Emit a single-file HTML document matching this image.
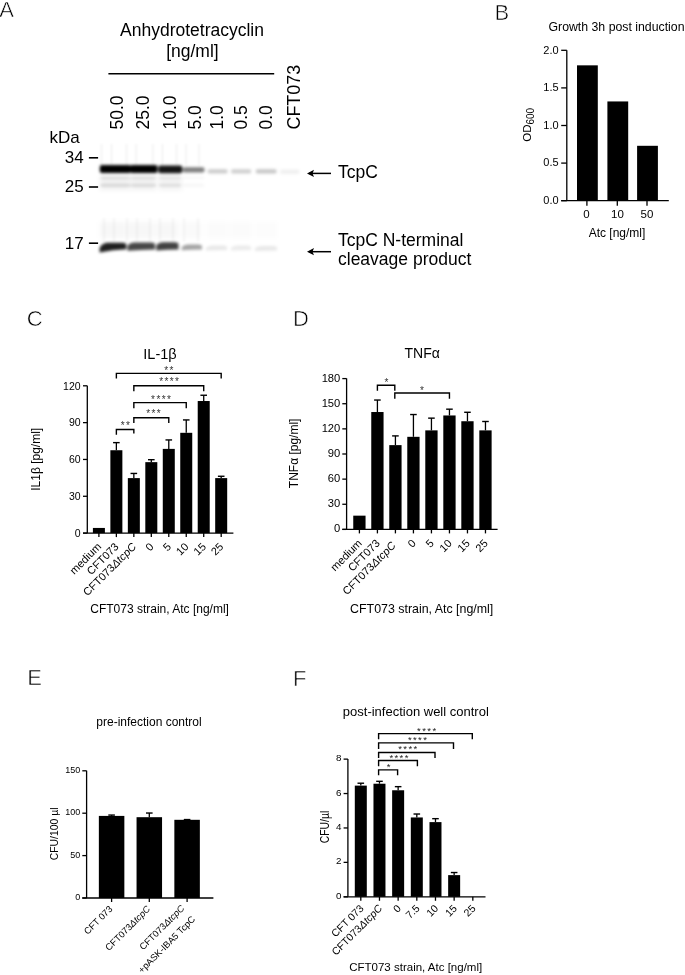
<!DOCTYPE html>
<html><head><meta charset="utf-8"><style>
html,body{margin:0;padding:0;background:#fff;width:685px;height:975px;overflow:hidden}
svg{display:block;font-family:"Liberation Sans", sans-serif;filter:blur(0.4px)}
</style></head><body>
<svg width="685" height="975" viewBox="0 0 685 975">
<text x="-0.7" y="16.9" font-size="22" text-anchor="start" fill="#000" stroke="#fff" stroke-width="0.55">A</text>
<text x="494.5" y="20.1" font-size="22" text-anchor="start" fill="#000" stroke="#fff" stroke-width="0.55">B</text>
<text x="26.7" y="325.8" font-size="22" text-anchor="start" fill="#000" stroke="#fff" stroke-width="0.55">C</text>
<text x="293.1" y="325.8" font-size="22" text-anchor="start" fill="#000" stroke="#fff" stroke-width="0.55">D</text>
<text x="27.2" y="685.3" font-size="22" text-anchor="start" fill="#000" stroke="#fff" stroke-width="0.55">E</text>
<text x="292.9" y="685.7" font-size="22" text-anchor="start" fill="#000" stroke="#fff" stroke-width="0.55">F</text>
<text x="192" y="35.7" font-size="17.5" text-anchor="middle" fill="#000" >Anhydrotetracyclin</text>
<text x="192.4" y="56.7" font-size="17.5" text-anchor="middle" fill="#000" >[ng/ml]</text>
<line x1="108.4" y1="73.7" x2="274.2" y2="73.7" stroke="#000" stroke-width="1.4"/>
<text x="0" y="0" font-size="17.5" text-anchor="start" fill="#000" transform="translate(123.2,129.5) rotate(-90)" >50.0</text>
<text x="0" y="0" font-size="17.5" text-anchor="start" fill="#000" transform="translate(149.2,129.5) rotate(-90)" >25.0</text>
<text x="0" y="0" font-size="17.5" text-anchor="start" fill="#000" transform="translate(176,129.5) rotate(-90)" >10.0</text>
<text x="0" y="0" font-size="17.5" text-anchor="start" fill="#000" transform="translate(201,129.5) rotate(-90)" >5.0</text>
<text x="0" y="0" font-size="17.5" text-anchor="start" fill="#000" transform="translate(222.6,129.5) rotate(-90)" >1.0</text>
<text x="0" y="0" font-size="17.5" text-anchor="start" fill="#000" transform="translate(246.5,129.5) rotate(-90)" >0.5</text>
<text x="0" y="0" font-size="17.5" text-anchor="start" fill="#000" transform="translate(272.2,129.5) rotate(-90)" >0.0</text>
<text x="0" y="0" font-size="17.9" text-anchor="start" fill="#000" transform="translate(300.4,129.5) rotate(-90)" >CFT073</text>
<text x="49.5" y="142.8" font-size="17" text-anchor="start" fill="#000" >kDa</text>
<text x="83.6" y="162.7" font-size="17" text-anchor="end" fill="#000" >34</text>
<line x1="88.9" y1="157.8" x2="98.1" y2="157.8" stroke="#000" stroke-width="1.6"/>
<text x="83.6" y="191.9" font-size="17" text-anchor="end" fill="#000" >25</text>
<line x1="88.9" y1="187" x2="98.1" y2="187" stroke="#000" stroke-width="1.6"/>
<text x="83.6" y="248.8" font-size="17" text-anchor="end" fill="#000" >17</text>
<line x1="88.9" y1="243.2" x2="98.1" y2="243.2" stroke="#000" stroke-width="1.6"/>
<line x1="309" y1="173.4" x2="331" y2="173.4" stroke="#000" stroke-width="1.5"/>
<path d="M307 173.4 L314 169.8 L312.5 173.4 L314 177.0 Z" fill="#000"/>
<line x1="309" y1="251.7" x2="331" y2="251.7" stroke="#000" stroke-width="1.5"/>
<path d="M307 251.7 L314 248.1 L312.5 251.7 L314 255.29999999999998 Z" fill="#000"/>
<text x="338" y="178.4" font-size="17.5" text-anchor="start" fill="#000" >TcpC</text>
<text x="338" y="245.5" font-size="17.5" text-anchor="start" fill="#000" >TcpC N-terminal</text>
<text x="338" y="265.2" font-size="17.5" text-anchor="start" fill="#000" >cleavage product</text>
<defs><filter id="b1" x="-50%" y="-50%" width="200%" height="200%"><feGaussianBlur stdDeviation="1.45"/></filter><filter id="b2" x="-50%" y="-50%" width="200%" height="200%"><feGaussianBlur stdDeviation="2.5"/></filter><filter id="b3" x="-50%" y="-50%" width="200%" height="200%"><feGaussianBlur stdDeviation="0.9"/></filter></defs>
<g filter="url(#b3)">
<rect x="100.9" y="144" width="1.2" height="22" fill="#000" opacity="0.07"/>
<rect x="111.0" y="144" width="1.2" height="22" fill="#000" opacity="0.07"/>
<rect x="125.9" y="144" width="1.2" height="22" fill="#000" opacity="0.07"/>
<rect x="135.6" y="144" width="1.2" height="22" fill="#000" opacity="0.07"/>
<rect x="152.20000000000002" y="144" width="1.2" height="22" fill="#000" opacity="0.07"/>
<rect x="161.8" y="144" width="1.2" height="22" fill="#000" opacity="0.07"/>
<rect x="175.9" y="144" width="1.2" height="22" fill="#000" opacity="0.07"/>
<rect x="185.4" y="144" width="1.2" height="22" fill="#000" opacity="0.07"/>
<rect x="198.4" y="144" width="1.2" height="22" fill="#000" opacity="0.07"/>
<rect x="103.4" y="218" width="1.2" height="24" fill="#000" opacity="0.06"/>
<rect x="113.4" y="218" width="1.2" height="24" fill="#000" opacity="0.06"/>
<rect x="126.4" y="218" width="1.2" height="24" fill="#000" opacity="0.06"/>
<rect x="136.4" y="218" width="1.2" height="24" fill="#000" opacity="0.06"/>
<rect x="149.4" y="218" width="1.2" height="24" fill="#000" opacity="0.06"/>
<rect x="159.4" y="218" width="1.2" height="24" fill="#000" opacity="0.06"/>
<rect x="172.4" y="218" width="1.2" height="24" fill="#000" opacity="0.06"/>
<rect x="183.4" y="218" width="1.2" height="24" fill="#000" opacity="0.06"/>
<rect x="197.4" y="218" width="1.2" height="24" fill="#000" opacity="0.06"/>
</g>
<g filter="url(#b2)">
<rect x="100" y="222" width="26" height="16" fill="#000" opacity="0.03"/>
<rect x="127" y="222" width="27" height="16" fill="#000" opacity="0.03"/>
<rect x="156" y="222" width="22" height="16" fill="#000" opacity="0.03"/>
<rect x="182" y="222" width="20" height="16" fill="#000" opacity="0.02"/>
<rect x="206" y="222" width="22" height="16" fill="#000" opacity="0.016"/>
<rect x="230" y="222" width="22" height="16" fill="#000" opacity="0.016"/>
<rect x="255" y="222" width="22" height="16" fill="#000" opacity="0.012"/>
<rect x="100" y="176" width="30" height="14" fill="#000" opacity="0.06"/>
<rect x="131" y="176" width="25" height="14" fill="#000" opacity="0.06"/>
<rect x="159" y="176" width="23" height="14" fill="#000" opacity="0.05"/>
</g>
<g filter="url(#b1)">
<rect x="99.8" y="164.9" width="31.200000000000003" height="8.199999999999989" rx="2" fill="#000" opacity="1.0"/>
<rect x="130" y="165.1" width="27.5" height="8.0" rx="2" fill="#000" opacity="1.0"/>
<rect x="158.3" y="165.5" width="23.899999999999977" height="7.699999999999989" rx="2" fill="#000" opacity="0.92"/>
<rect x="182.6" y="167.2" width="21.900000000000006" height="5.400000000000006" rx="2" fill="#000" opacity="0.5"/>
<rect x="207.5" y="169.2" width="20.19999999999999" height="4.300000000000011" rx="2" fill="#000" opacity="0.2"/>
<rect x="231" y="169.2" width="20.30000000000001" height="4.300000000000011" rx="2" fill="#000" opacity="0.19"/>
<rect x="255.7" y="169.2" width="21.0" height="4.300000000000011" rx="2" fill="#000" opacity="0.22"/>
<rect x="280" y="169.5" width="19.5" height="4.5" rx="2" fill="#000" opacity="0.06"/>
<rect x="100.5" y="176.6" width="29.5" height="2.4" fill="#000" opacity="0.11"/>
<rect x="100.5" y="184" width="29.5" height="2.6" fill="#000" opacity="0.12100000000000001"/>
<rect x="131" y="176.6" width="25" height="2.4" fill="#000" opacity="0.1"/>
<rect x="131" y="184" width="25" height="2.6" fill="#000" opacity="0.11000000000000001"/>
<rect x="159" y="176.6" width="22" height="2.4" fill="#000" opacity="0.09"/>
<rect x="159" y="184" width="22" height="2.6" fill="#000" opacity="0.099"/>
<rect x="183" y="176.6" width="21" height="2.4" fill="#000" opacity="0.035"/>
<rect x="183" y="184" width="21" height="2.6" fill="#000" opacity="0.038500000000000006"/>
<path d="M99.6 252.39999999999998 L99.6 247.89999999999998 Q101.6 243.66 106.6 242.7 L122.3 242.7 Q126.3 242.7 126.3 244.7 L126.3 249.2 Q112.94999999999999 249.83999999999997 99.6 252.39999999999998 Z" fill="#000" opacity="0.88"/>
<path d="M127.5 250.79999999999998 L127.5 245.7 Q129.5 242.86 134.5 242.5 L151 242.5 Q155 242.5 155 244.5 L155 249.6 Q141.25 249.84 127.5 250.79999999999998 Z" fill="#000" opacity="0.72"/>
<path d="M156.3 250.6 L156.3 245.3 Q158.3 242.60000000000002 163.3 242.3 L174.5 242.3 Q178.5 242.3 178.5 244.3 L178.5 249.6 Q167.4 249.79999999999998 156.3 250.6 Z" fill="#000" opacity="0.74"/>
<path d="M181.7 250.3 L181.7 247.3 Q183.7 244.74 188.7 244.5 L198 244.5 Q202 244.5 202 246.5 L202 249.5 Q191.85 249.66 181.7 250.3 Z" fill="#000" opacity="0.36"/>
<path d="M206 250.5 L206 248.0 Q208 245.65 213 245.5 L223 245.5 Q227 245.5 227 247.5 L227 250 Q216.5 250.1 206 250.5 Z" fill="#000" opacity="0.09"/>
<path d="M231 250.5 L231 248.0 Q233 245.65 238 245.5 L247 245.5 Q251 245.5 251 247.5 L251 250 Q241.0 250.1 231 250.5 Z" fill="#000" opacity="0.08"/>
<path d="M255 251.0 L255 248.5 Q257 246.15 262 246 L273 246 Q277 246 277 248 L277 250.5 Q266.0 250.6 255 251.0 Z" fill="#000" opacity="0.09"/>
</g>
<text x="616.5" y="30.8" font-size="12.3" text-anchor="middle" fill="#000" >Growth 3h post induction</text>
<line x1="566.8" y1="50.3" x2="566.8" y2="200.7" stroke="#000" stroke-width="1.3"/>
<line x1="561.2" y1="200.7" x2="566.8" y2="200.7" stroke="#000" stroke-width="1.3"/>
<text x="558.6" y="203.89999999999998" font-size="11" text-anchor="end" fill="#000" >0.0</text>
<line x1="561.2" y1="163.1" x2="566.8" y2="163.1" stroke="#000" stroke-width="1.3"/>
<text x="558.6" y="166.29999999999998" font-size="11" text-anchor="end" fill="#000" >0.5</text>
<line x1="561.2" y1="125.49999999999999" x2="566.8" y2="125.49999999999999" stroke="#000" stroke-width="1.3"/>
<text x="558.6" y="128.7" font-size="11" text-anchor="end" fill="#000" >1.0</text>
<line x1="561.2" y1="87.89999999999998" x2="566.8" y2="87.89999999999998" stroke="#000" stroke-width="1.3"/>
<text x="558.6" y="91.09999999999998" font-size="11" text-anchor="end" fill="#000" >1.5</text>
<line x1="561.2" y1="50.29999999999998" x2="566.8" y2="50.29999999999998" stroke="#000" stroke-width="1.3"/>
<text x="558.6" y="53.499999999999986" font-size="11" text-anchor="end" fill="#000" >2.0</text>
<line x1="561.2" y1="200.7" x2="668.8" y2="200.7" stroke="#000" stroke-width="1.3"/>
<rect x="577.00" y="65.34" width="20.80" height="135.36" fill="#000"/>
<line x1="586.9" y1="200.7" x2="586.9" y2="205.7" stroke="#000" stroke-width="1.3"/>
<rect x="607.40" y="101.44" width="20.80" height="99.26" fill="#000"/>
<line x1="617.3" y1="200.7" x2="617.3" y2="205.7" stroke="#000" stroke-width="1.3"/>
<rect x="637.10" y="145.80" width="20.80" height="54.90" fill="#000"/>
<line x1="647.0" y1="200.7" x2="647.0" y2="205.7" stroke="#000" stroke-width="1.3"/>
<text x="586.5" y="218" font-size="11.5" text-anchor="middle" fill="#000" >0</text>
<text x="617.5" y="218" font-size="11.5" text-anchor="middle" fill="#000" >10</text>
<text x="647" y="218" font-size="11.5" text-anchor="middle" fill="#000" >50</text>
<text x="617" y="236.8" font-size="12" text-anchor="middle" fill="#000" >Atc [ng/ml]</text>
<text transform="translate(531.3,124.8) rotate(-90)" font-size="11.5" text-anchor="middle">OD<tspan font-size="10" dy="2.3">600</tspan></text>
<text x="160" y="358.8" font-size="14.5" text-anchor="middle" fill="#000" >IL-1β</text>
<line x1="87.3" y1="533.1" x2="87.3" y2="385.8" stroke="#000" stroke-width="1.3"/>
<line x1="83.0" y1="533.1" x2="87.3" y2="533.1" stroke="#000" stroke-width="1.3"/>
<text x="80.6" y="536.88" font-size="10.5" text-anchor="end" fill="#000" >0</text>
<line x1="83.0" y1="496.27500000000003" x2="87.3" y2="496.27500000000003" stroke="#000" stroke-width="1.3"/>
<text x="80.6" y="500.055" font-size="10.5" text-anchor="end" fill="#000" >30</text>
<line x1="83.0" y1="459.45000000000005" x2="87.3" y2="459.45000000000005" stroke="#000" stroke-width="1.3"/>
<text x="80.6" y="463.23" font-size="10.5" text-anchor="end" fill="#000" >60</text>
<line x1="83.0" y1="422.625" x2="87.3" y2="422.625" stroke="#000" stroke-width="1.3"/>
<text x="80.6" y="426.405" font-size="10.5" text-anchor="end" fill="#000" >90</text>
<line x1="83.0" y1="385.8" x2="87.3" y2="385.8" stroke="#000" stroke-width="1.3"/>
<text x="80.6" y="389.58" font-size="10.5" text-anchor="end" fill="#000" >120</text>
<line x1="83.0" y1="533.1" x2="233.4" y2="533.1" stroke="#000" stroke-width="1.3"/>
<rect x="92.90" y="527.94" width="12.00" height="5.16" fill="#000"/>
<line x1="98.9" y1="533.1" x2="98.9" y2="537.1" stroke="#000" stroke-width="1.3"/>
<rect x="110.37" y="450.24" width="12.00" height="82.86" fill="#000"/>
<line x1="116.37" y1="450.24375000000003" x2="116.37" y2="442.63325000000003" stroke="#000" stroke-width="1.3"/>
<line x1="113.07000000000001" y1="442.63325000000003" x2="119.67" y2="442.63325000000003" stroke="#000" stroke-width="1.4"/>
<line x1="116.37" y1="533.1" x2="116.37" y2="537.1" stroke="#000" stroke-width="1.3"/>
<rect x="127.84" y="478.11" width="12.00" height="54.99" fill="#000"/>
<line x1="133.84" y1="478.108" x2="133.84" y2="473.44350000000003" stroke="#000" stroke-width="1.3"/>
<line x1="130.54" y1="473.44350000000003" x2="137.14000000000001" y2="473.44350000000003" stroke="#000" stroke-width="1.4"/>
<line x1="133.84" y1="533.1" x2="133.84" y2="537.1" stroke="#000" stroke-width="1.3"/>
<rect x="145.31" y="462.15" width="12.00" height="70.95" fill="#000"/>
<line x1="151.31" y1="462.1505" x2="151.31" y2="459.69550000000004" stroke="#000" stroke-width="1.3"/>
<line x1="148.01" y1="459.69550000000004" x2="154.61" y2="459.69550000000004" stroke="#000" stroke-width="1.4"/>
<line x1="151.31" y1="533.1" x2="151.31" y2="537.1" stroke="#000" stroke-width="1.3"/>
<rect x="162.78" y="448.89" width="12.00" height="84.21" fill="#000"/>
<line x1="168.78" y1="448.8935" x2="168.78" y2="439.93275" stroke="#000" stroke-width="1.3"/>
<line x1="165.48" y1="439.93275" x2="172.08" y2="439.93275" stroke="#000" stroke-width="1.4"/>
<line x1="168.78" y1="533.1" x2="168.78" y2="537.1" stroke="#000" stroke-width="1.3"/>
<rect x="180.25" y="432.81" width="12.00" height="100.29" fill="#000"/>
<line x1="186.25" y1="432.81325000000004" x2="186.25" y2="419.9245" stroke="#000" stroke-width="1.3"/>
<line x1="182.95" y1="419.9245" x2="189.55" y2="419.9245" stroke="#000" stroke-width="1.4"/>
<line x1="186.25" y1="533.1" x2="186.25" y2="537.1" stroke="#000" stroke-width="1.3"/>
<rect x="197.72" y="401.02" width="12.00" height="132.08" fill="#000"/>
<line x1="203.72" y1="401.021" x2="203.72" y2="395.25175" stroke="#000" stroke-width="1.3"/>
<line x1="200.42" y1="395.25175" x2="207.02" y2="395.25175" stroke="#000" stroke-width="1.4"/>
<line x1="203.72" y1="533.1" x2="203.72" y2="537.1" stroke="#000" stroke-width="1.3"/>
<rect x="215.19" y="478.11" width="12.00" height="54.99" fill="#000"/>
<line x1="221.19" y1="478.108" x2="221.19" y2="476.26675" stroke="#000" stroke-width="1.3"/>
<line x1="217.89" y1="476.26675" x2="224.49" y2="476.26675" stroke="#000" stroke-width="1.4"/>
<line x1="221.19" y1="533.1" x2="221.19" y2="537.1" stroke="#000" stroke-width="1.3"/>
<text x="0" y="0" font-size="12" text-anchor="middle" fill="#000" transform="translate(40,459.3) rotate(-90)" >IL1β [pg/ml]</text>
<text x="159.6" y="613" font-size="12" text-anchor="middle" fill="#000" >CFT073 strain, Atc [ng/ml]</text>
<path d="M116.37 434.8 V429.5 H133.84 V433.5" stroke="#000" stroke-width="1.4" fill="none"/>
<path d="M133.84 423.1 V417.8 H168.78 V423.1" stroke="#000" stroke-width="1.4" fill="none"/>
<path d="M133.84 408.20000000000005 V402.6 H186.25 V408.20000000000005" stroke="#000" stroke-width="1.4" fill="none"/>
<path d="M133.84 391.3 V385.8 H203.72 V391.3" stroke="#000" stroke-width="1.4" fill="none"/>
<path d="M116.37 378.59999999999997 V373.4 H221.19 V378.59999999999997" stroke="#000" stroke-width="1.4" fill="none"/>
<text x="122.70" y="429.33" font-size="10" text-anchor="middle" fill="#333">*</text>
<text x="127.90" y="429.33" font-size="10" text-anchor="middle" fill="#333">*</text>
<text x="148.30" y="416.63" font-size="10" text-anchor="middle" fill="#333">*</text>
<text x="153.50" y="416.63" font-size="10" text-anchor="middle" fill="#333">*</text>
<text x="158.70" y="416.63" font-size="10" text-anchor="middle" fill="#333">*</text>
<text x="153.05" y="402.93" font-size="10" text-anchor="middle" fill="#333">*</text>
<text x="158.35" y="402.93" font-size="10" text-anchor="middle" fill="#333">*</text>
<text x="163.65" y="402.93" font-size="10" text-anchor="middle" fill="#333">*</text>
<text x="168.95" y="402.93" font-size="10" text-anchor="middle" fill="#333">*</text>
<text x="161.15" y="385.23" font-size="10" text-anchor="middle" fill="#333">*</text>
<text x="166.45" y="385.23" font-size="10" text-anchor="middle" fill="#333">*</text>
<text x="171.75" y="385.23" font-size="10" text-anchor="middle" fill="#333">*</text>
<text x="177.05" y="385.23" font-size="10" text-anchor="middle" fill="#333">*</text>
<text x="166.30" y="373.63" font-size="10" text-anchor="middle" fill="#333">*</text>
<text x="171.50" y="373.63" font-size="10" text-anchor="middle" fill="#333">*</text>
<text x="0" y="0" font-size="11" text-anchor="end" fill="#000" transform="translate(101.9,547.3) rotate(-45)" >medium</text>
<text x="0" y="0" font-size="11" text-anchor="end" fill="#000" transform="translate(119.37,547.3) rotate(-45)" >CFT073</text>
<text x="0" y="0" font-size="11" text-anchor="end" fill="#000" transform="translate(136.84,547.3) rotate(-45)" >CFT073<tspan font-style="italic">ΔtcpC</tspan></text>
<text x="0" y="0" font-size="11" text-anchor="end" fill="#000" transform="translate(154.31,547.3) rotate(-45)" >0</text>
<text x="0" y="0" font-size="11" text-anchor="end" fill="#000" transform="translate(171.78,547.3) rotate(-45)" >5</text>
<text x="0" y="0" font-size="11" text-anchor="end" fill="#000" transform="translate(189.25,547.3) rotate(-45)" >10</text>
<text x="0" y="0" font-size="11" text-anchor="end" fill="#000" transform="translate(206.72,547.3) rotate(-45)" >15</text>
<text x="0" y="0" font-size="11" text-anchor="end" fill="#000" transform="translate(224.19,547.3) rotate(-45)" >25</text>
<text x="422.2" y="358.3" font-size="14" text-anchor="middle" fill="#000" >TNFα</text>
<line x1="346.6" y1="529.4" x2="346.6" y2="378.4" stroke="#000" stroke-width="1.3"/>
<line x1="342.3" y1="529.4" x2="346.6" y2="529.4" stroke="#000" stroke-width="1.3"/>
<text x="340.3" y="532.432" font-size="11.2" text-anchor="end" fill="#000" >0</text>
<line x1="342.3" y1="504.26599999999996" x2="346.6" y2="504.26599999999996" stroke="#000" stroke-width="1.3"/>
<text x="340.3" y="507.29799999999994" font-size="11.2" text-anchor="end" fill="#000" >30</text>
<line x1="342.3" y1="479.13199999999995" x2="346.6" y2="479.13199999999995" stroke="#000" stroke-width="1.3"/>
<text x="340.3" y="482.16399999999993" font-size="11.2" text-anchor="end" fill="#000" >60</text>
<line x1="342.3" y1="453.998" x2="346.6" y2="453.998" stroke="#000" stroke-width="1.3"/>
<text x="340.3" y="457.03" font-size="11.2" text-anchor="end" fill="#000" >90</text>
<line x1="342.3" y1="428.864" x2="346.6" y2="428.864" stroke="#000" stroke-width="1.3"/>
<text x="340.3" y="431.89599999999996" font-size="11.2" text-anchor="end" fill="#000" >120</text>
<line x1="342.3" y1="403.72999999999996" x2="346.6" y2="403.72999999999996" stroke="#000" stroke-width="1.3"/>
<text x="340.3" y="406.76199999999994" font-size="11.2" text-anchor="end" fill="#000" >150</text>
<line x1="342.3" y1="378.596" x2="346.6" y2="378.596" stroke="#000" stroke-width="1.3"/>
<text x="340.3" y="381.628" font-size="11.2" text-anchor="end" fill="#000" >180</text>
<line x1="342.3" y1="529.4" x2="497.6" y2="529.4" stroke="#000" stroke-width="1.3"/>
<rect x="353.25" y="515.66" width="12.30" height="13.74" fill="#000"/>
<line x1="359.4" y1="529.4" x2="359.4" y2="533.4" stroke="#000" stroke-width="1.3"/>
<rect x="371.26" y="412.02" width="12.30" height="117.38" fill="#000"/>
<line x1="377.40999999999997" y1="412.02422" x2="377.40999999999997" y2="400.04368" stroke="#000" stroke-width="1.3"/>
<line x1="374.10999999999996" y1="400.04368" x2="380.71" y2="400.04368" stroke="#000" stroke-width="1.4"/>
<line x1="377.40999999999997" y1="529.4" x2="377.40999999999997" y2="533.4" stroke="#000" stroke-width="1.3"/>
<rect x="389.27" y="445.12" width="12.30" height="84.28" fill="#000"/>
<line x1="395.41999999999996" y1="445.11731999999995" x2="395.41999999999996" y2="435.90152" stroke="#000" stroke-width="1.3"/>
<line x1="392.11999999999995" y1="435.90152" x2="398.71999999999997" y2="435.90152" stroke="#000" stroke-width="1.4"/>
<line x1="395.41999999999996" y1="529.4" x2="395.41999999999996" y2="533.4" stroke="#000" stroke-width="1.3"/>
<rect x="407.28" y="436.82" width="12.30" height="92.58" fill="#000"/>
<line x1="413.42999999999995" y1="436.82309999999995" x2="413.42999999999995" y2="414.53762" stroke="#000" stroke-width="1.3"/>
<line x1="410.12999999999994" y1="414.53762" x2="416.72999999999996" y2="414.53762" stroke="#000" stroke-width="1.4"/>
<line x1="413.42999999999995" y1="529.4" x2="413.42999999999995" y2="533.4" stroke="#000" stroke-width="1.3"/>
<rect x="425.29" y="430.37" width="12.30" height="99.03" fill="#000"/>
<line x1="431.44" y1="430.37203999999997" x2="431.44" y2="418.14016" stroke="#000" stroke-width="1.3"/>
<line x1="428.14" y1="418.14016" x2="434.74" y2="418.14016" stroke="#000" stroke-width="1.4"/>
<line x1="431.44" y1="529.4" x2="431.44" y2="533.4" stroke="#000" stroke-width="1.3"/>
<rect x="443.30" y="415.46" width="12.30" height="113.94" fill="#000"/>
<line x1="449.45" y1="415.4592" x2="449.45" y2="409.1757" stroke="#000" stroke-width="1.3"/>
<line x1="446.15" y1="409.1757" x2="452.75" y2="409.1757" stroke="#000" stroke-width="1.4"/>
<line x1="449.45" y1="529.4" x2="449.45" y2="533.4" stroke="#000" stroke-width="1.3"/>
<rect x="461.31" y="421.24" width="12.30" height="108.16" fill="#000"/>
<line x1="467.46" y1="421.24001999999996" x2="467.46" y2="412.27556" stroke="#000" stroke-width="1.3"/>
<line x1="464.15999999999997" y1="412.27556" x2="470.76" y2="412.27556" stroke="#000" stroke-width="1.4"/>
<line x1="467.46" y1="529.4" x2="467.46" y2="533.4" stroke="#000" stroke-width="1.3"/>
<rect x="479.32" y="430.37" width="12.30" height="99.03" fill="#000"/>
<line x1="485.46999999999997" y1="430.37203999999997" x2="485.46999999999997" y2="421.49136" stroke="#000" stroke-width="1.3"/>
<line x1="482.16999999999996" y1="421.49136" x2="488.77" y2="421.49136" stroke="#000" stroke-width="1.4"/>
<line x1="485.46999999999997" y1="529.4" x2="485.46999999999997" y2="533.4" stroke="#000" stroke-width="1.3"/>
<text x="0" y="0" font-size="12" text-anchor="middle" fill="#000" transform="translate(298.2,453.4) rotate(-90)" >TNFα [pg/ml]</text>
<text x="421.7" y="613" font-size="12.4" text-anchor="middle" fill="#000" >CFT073 strain, Atc [ng/ml]</text>
<path d="M377.4 390.8 V385.3 H394.8 V390.8" stroke="#000" stroke-width="1.4" fill="none"/>
<path d="M394.8 398.8 V393 H449.45 V398.8" stroke="#000" stroke-width="1.4" fill="none"/>
<text x="386.50" y="386.33" font-size="10" text-anchor="middle" fill="#333">*</text>
<text x="422.00" y="393.63" font-size="10" text-anchor="middle" fill="#333">*</text>
<text x="0" y="0" font-size="11" text-anchor="end" fill="#000" transform="translate(362.59999999999997,544) rotate(-45)" >medium</text>
<text x="0" y="0" font-size="11" text-anchor="end" fill="#000" transform="translate(380.60999999999996,544) rotate(-45)" >CFT073</text>
<text x="0" y="0" font-size="11" text-anchor="end" fill="#000" transform="translate(396.41999999999996,546.2) rotate(-45)" >CFT073<tspan font-style="italic">ΔtcpC</tspan></text>
<text x="0" y="0" font-size="11" text-anchor="end" fill="#000" transform="translate(416.62999999999994,544) rotate(-45)" >0</text>
<text x="0" y="0" font-size="11" text-anchor="end" fill="#000" transform="translate(434.64,544) rotate(-45)" >5</text>
<text x="0" y="0" font-size="11" text-anchor="end" fill="#000" transform="translate(452.65,544) rotate(-45)" >10</text>
<text x="0" y="0" font-size="11" text-anchor="end" fill="#000" transform="translate(470.65999999999997,544) rotate(-45)" >15</text>
<text x="0" y="0" font-size="11" text-anchor="end" fill="#000" transform="translate(488.66999999999996,544) rotate(-45)" >25</text>
<text x="149" y="726.4" font-size="12" text-anchor="middle" fill="#000" >pre-infection control</text>
<line x1="86.6" y1="898" x2="86.6" y2="770.7" stroke="#000" stroke-width="1.3"/>
<line x1="82.3" y1="898.0" x2="86.6" y2="898.0" stroke="#000" stroke-width="1.3"/>
<text x="80.3" y="900.24" font-size="9" text-anchor="end" fill="#000" >0</text>
<line x1="82.3" y1="855.6" x2="86.6" y2="855.6" stroke="#000" stroke-width="1.3"/>
<text x="80.3" y="857.84" font-size="9" text-anchor="end" fill="#000" >50</text>
<line x1="82.3" y1="813.2" x2="86.6" y2="813.2" stroke="#000" stroke-width="1.3"/>
<text x="80.3" y="815.44" font-size="9" text-anchor="end" fill="#000" >100</text>
<line x1="82.3" y1="770.8" x2="86.6" y2="770.8" stroke="#000" stroke-width="1.3"/>
<text x="80.3" y="773.04" font-size="9" text-anchor="end" fill="#000" >150</text>
<line x1="82.3" y1="898" x2="213.4" y2="898" stroke="#000" stroke-width="1.3"/>
<rect x="98.85" y="815.91" width="25.50" height="82.09" fill="#000"/>
<line x1="111.6" y1="815.9136" x2="111.6" y2="815.0656" stroke="#000" stroke-width="1.3"/>
<line x1="108.3" y1="815.0656" x2="114.89999999999999" y2="815.0656" stroke="#000" stroke-width="1.4"/>
<line x1="111.6" y1="898" x2="111.6" y2="902" stroke="#000" stroke-width="1.3"/>
<rect x="136.55" y="817.19" width="25.50" height="80.81" fill="#000"/>
<line x1="149.3" y1="817.1856" x2="149.3" y2="813.0304" stroke="#000" stroke-width="1.3"/>
<line x1="146.0" y1="813.0304" x2="152.60000000000002" y2="813.0304" stroke="#000" stroke-width="1.4"/>
<line x1="149.3" y1="898" x2="149.3" y2="902" stroke="#000" stroke-width="1.3"/>
<rect x="174.35" y="819.81" width="25.50" height="78.19" fill="#000"/>
<line x1="187.1" y1="819.8144" x2="187.1" y2="819.56" stroke="#000" stroke-width="1.3"/>
<line x1="183.79999999999998" y1="819.56" x2="190.4" y2="819.56" stroke="#000" stroke-width="1.4"/>
<line x1="187.1" y1="898" x2="187.1" y2="902" stroke="#000" stroke-width="1.3"/>
<text transform="translate(57.6,833.9) rotate(-90) scale(1,1.1)" font-size="10.4" text-anchor="middle">CFU/100 µl</text>
<text x="0" y="0" font-size="9.3" text-anchor="end" fill="#000" transform="translate(113.1,909.6) rotate(-45)" >CFT 073</text>
<text x="0" y="0" font-size="9.3" text-anchor="end" fill="#000" transform="translate(150.8,909.6) rotate(-45)" >CFT073<tspan font-style="italic">ΔtcpC</tspan></text>
<text transform="translate(184.9,908.9) rotate(-45)" font-size="9.3" text-anchor="end"><tspan x="0" y="0">CFT073<tspan font-style="italic">ΔtcpC</tspan></tspan><tspan x="0" y="15.5">+pASK-IBA5 TcpC</tspan></text>
<text x="415.8" y="716.1" font-size="13" text-anchor="middle" fill="#000" >post-infection well control</text>
<line x1="347.9" y1="896.8" x2="347.9" y2="758.9" stroke="#000" stroke-width="1.3"/>
<line x1="343.59999999999997" y1="896.8" x2="347.9" y2="896.8" stroke="#000" stroke-width="1.3"/>
<text x="341.4" y="898.828" font-size="9.8" text-anchor="end" fill="#000" >0</text>
<line x1="343.59999999999997" y1="862.38" x2="347.9" y2="862.38" stroke="#000" stroke-width="1.3"/>
<text x="341.4" y="864.408" font-size="9.8" text-anchor="end" fill="#000" >2</text>
<line x1="343.59999999999997" y1="827.9599999999999" x2="347.9" y2="827.9599999999999" stroke="#000" stroke-width="1.3"/>
<text x="341.4" y="829.9879999999999" font-size="9.8" text-anchor="end" fill="#000" >4</text>
<line x1="343.59999999999997" y1="793.54" x2="347.9" y2="793.54" stroke="#000" stroke-width="1.3"/>
<text x="341.4" y="795.568" font-size="9.8" text-anchor="end" fill="#000" >6</text>
<line x1="343.59999999999997" y1="759.1199999999999" x2="347.9" y2="759.1199999999999" stroke="#000" stroke-width="1.3"/>
<text x="341.4" y="761.1479999999999" font-size="9.8" text-anchor="end" fill="#000" >8</text>
<line x1="343.59999999999997" y1="896.8" x2="485.5" y2="896.8" stroke="#000" stroke-width="1.3"/>
<rect x="354.80" y="785.62" width="12.00" height="111.18" fill="#000"/>
<line x1="360.8" y1="785.6234" x2="360.8" y2="783.2139999999999" stroke="#000" stroke-width="1.3"/>
<line x1="357.5" y1="783.2139999999999" x2="364.1" y2="783.2139999999999" stroke="#000" stroke-width="1.4"/>
<line x1="360.8" y1="896.8" x2="360.8" y2="900.8" stroke="#000" stroke-width="1.3"/>
<rect x="373.47" y="783.73" width="12.00" height="113.07" fill="#000"/>
<line x1="379.47" y1="783.7302999999999" x2="379.47" y2="781.3208999999999" stroke="#000" stroke-width="1.3"/>
<line x1="376.17" y1="781.3208999999999" x2="382.77000000000004" y2="781.3208999999999" stroke="#000" stroke-width="1.4"/>
<line x1="379.47" y1="896.8" x2="379.47" y2="900.8" stroke="#000" stroke-width="1.3"/>
<rect x="392.14" y="790.27" width="12.00" height="106.53" fill="#000"/>
<line x1="398.14" y1="790.2701" x2="398.14" y2="786.656" stroke="#000" stroke-width="1.3"/>
<line x1="394.84" y1="786.656" x2="401.44" y2="786.656" stroke="#000" stroke-width="1.4"/>
<line x1="398.14" y1="896.8" x2="398.14" y2="900.8" stroke="#000" stroke-width="1.3"/>
<rect x="410.81" y="817.46" width="12.00" height="79.34" fill="#000"/>
<line x1="416.81" y1="817.4618999999999" x2="416.81" y2="814.0199" stroke="#000" stroke-width="1.3"/>
<line x1="413.51" y1="814.0199" x2="420.11" y2="814.0199" stroke="#000" stroke-width="1.4"/>
<line x1="416.81" y1="896.8" x2="416.81" y2="900.8" stroke="#000" stroke-width="1.3"/>
<rect x="429.48" y="822.11" width="12.00" height="74.69" fill="#000"/>
<line x1="435.48" y1="822.1085999999999" x2="435.48" y2="818.6665999999999" stroke="#000" stroke-width="1.3"/>
<line x1="432.18" y1="818.6665999999999" x2="438.78000000000003" y2="818.6665999999999" stroke="#000" stroke-width="1.4"/>
<line x1="435.48" y1="896.8" x2="435.48" y2="900.8" stroke="#000" stroke-width="1.3"/>
<rect x="448.15" y="875.12" width="12.00" height="21.68" fill="#000"/>
<line x1="454.15000000000003" y1="875.1153999999999" x2="454.15000000000003" y2="872.5338999999999" stroke="#000" stroke-width="1.3"/>
<line x1="450.85" y1="872.5338999999999" x2="457.45000000000005" y2="872.5338999999999" stroke="#000" stroke-width="1.4"/>
<line x1="454.15000000000003" y1="896.8" x2="454.15000000000003" y2="900.8" stroke="#000" stroke-width="1.3"/>
<line x1="472.82000000000005" y1="896.8" x2="472.82000000000005" y2="900.8" stroke="#000" stroke-width="1.3"/>
<text transform="translate(329.3,827) rotate(-90) scale(1,1.3)" font-size="10.4" text-anchor="middle">CFU/µl</text>
<text x="415.7" y="970.7" font-size="11.5" text-anchor="middle" fill="#000" >CFT073 strain, Atc [ng/ml]</text>
<path d="M378.6 739.3000000000001 V733.6 H472.3 V739.3000000000001" stroke="#000" stroke-width="1.4" fill="none"/>
<text x="418.95" y="733.87" font-size="9.5" text-anchor="middle" fill="#222">*</text>
<text x="424.05" y="733.87" font-size="9.5" text-anchor="middle" fill="#222">*</text>
<text x="429.15" y="733.87" font-size="9.5" text-anchor="middle" fill="#222">*</text>
<text x="434.25" y="733.87" font-size="9.5" text-anchor="middle" fill="#222">*</text>
<path d="M378.6 748.9 V742.9 H453.5 V748.9" stroke="#000" stroke-width="1.4" fill="none"/>
<text x="409.75" y="743.37" font-size="9.5" text-anchor="middle" fill="#222">*</text>
<text x="414.85" y="743.37" font-size="9.5" text-anchor="middle" fill="#222">*</text>
<text x="419.95" y="743.37" font-size="9.5" text-anchor="middle" fill="#222">*</text>
<text x="425.05" y="743.37" font-size="9.5" text-anchor="middle" fill="#222">*</text>
<path d="M378.6 758.1 V752.5 H435 V758.1" stroke="#000" stroke-width="1.4" fill="none"/>
<text x="400.05" y="752.17" font-size="9.5" text-anchor="middle" fill="#222">*</text>
<text x="405.15" y="752.17" font-size="9.5" text-anchor="middle" fill="#222">*</text>
<text x="410.25" y="752.17" font-size="9.5" text-anchor="middle" fill="#222">*</text>
<text x="415.35" y="752.17" font-size="9.5" text-anchor="middle" fill="#222">*</text>
<path d="M378.6 766.2 V760.5 H417.4 V766.2" stroke="#000" stroke-width="1.4" fill="none"/>
<text x="391.25" y="760.97" font-size="9.5" text-anchor="middle" fill="#222">*</text>
<text x="396.35" y="760.97" font-size="9.5" text-anchor="middle" fill="#222">*</text>
<text x="401.45" y="760.97" font-size="9.5" text-anchor="middle" fill="#222">*</text>
<text x="406.55" y="760.97" font-size="9.5" text-anchor="middle" fill="#222">*</text>
<path d="M378.6 775.3 V769.9 H397.6 V775.3" stroke="#000" stroke-width="1.4" fill="none"/>
<text x="388.50" y="769.87" font-size="9.5" text-anchor="middle" fill="#222">*</text>
<text x="0" y="0" font-size="10.5" text-anchor="end" fill="#000" transform="translate(364.3,909) rotate(-45)" >CFT 073</text>
<text x="0" y="0" font-size="10.5" text-anchor="end" fill="#000" transform="translate(382.97,909) rotate(-45)" >CFT073<tspan font-style="italic">ΔtcpC</tspan></text>
<text x="0" y="0" font-size="10.5" text-anchor="end" fill="#000" transform="translate(401.64,909) rotate(-45)" >0</text>
<text x="0" y="0" font-size="10.5" text-anchor="end" fill="#000" transform="translate(420.31,909) rotate(-45)" >7.5</text>
<text x="0" y="0" font-size="10.5" text-anchor="end" fill="#000" transform="translate(438.98,909) rotate(-45)" >10</text>
<text x="0" y="0" font-size="10.5" text-anchor="end" fill="#000" transform="translate(457.65000000000003,909) rotate(-45)" >15</text>
<text x="0" y="0" font-size="10.5" text-anchor="end" fill="#000" transform="translate(476.32000000000005,909) rotate(-45)" >25</text>
</svg>
</body></html>
